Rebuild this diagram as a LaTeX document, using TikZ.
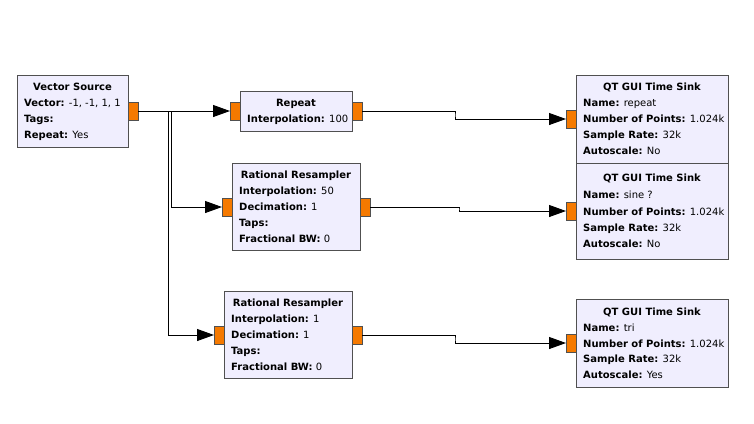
\documentclass[tikz,border=0pt]{standalone}
\usepackage{fontspec}
\setmainfont{DejaVu Sans}
\usetikzlibrary{arrows.meta}
\definecolor{blockfill}{RGB}{240,238,254}
\definecolor{portfill}{RGB}{245,121,0}
\definecolor{edge}{RGB}{80,80,80}
\tikzset{
  blk/.style={draw=edge, fill=blockfill, line width=1bp},
  port/.style={draw=edge, fill=portfill, line width=1bp, inner sep=0pt, minimum width=10bp, minimum height=18bp, outer sep=0pt},
  ttl/.style={font=\fontsize{10bp}{16bp}\selectfont\bfseries, anchor=mid, inner sep=0pt, yshift=-1.5bp},
  prm/.style={font=\fontsize{10bp}{16bp}\selectfont, anchor=mid west, inner sep=0pt, yshift=-1.5bp},
  wire/.style={line width=1bp, draw=black},
  arr/.style={wire, -{Triangle[length=17bp,width=12bp]}}
}
\begin{document}
\begin{tikzpicture}[x=1bp,y=-1bp]
\useasboundingbox[fill=white] (0,0) rectangle (754,423);

% Vector Source
\path[blk] (17,75) rectangle (128,147);
\node[ttl] (vs-t) at (72.5,86) {Vector Source};
\node[prm] (vs-1) at (24,102) {\textbf{Vector:} -1, -1, 1, 1};
\node[prm] (vs-2) at (24,118) {\textbf{Tags:}};
\node[prm] (vs-3) at (24,134) {\textbf{Repeat:} Yes};
\node[port] (vs-out) at (133,111) {};

% Repeat
\path[blk] (240,91) rectangle (352,131);
\node[ttl] (rp-t) at (296,102) {Repeat};
\node[prm] (rp-1) at (247,118) {\textbf{Interpolation:} 100};
\node[port] (rp-in) at (235,111) {};
\node[port] (rp-out) at (357,111) {};

% Rational Resampler 1
\path[blk] (232,163) rectangle (360,250);
\node[ttl] (r1-t) at (296,174) {Rational Resampler};
\node[prm] (r1-1) at (239,190) {\textbf{Interpolation:} 50};
\node[prm] (r1-2) at (239,206) {\textbf{Decimation:} 1};
\node[prm] (r1-3) at (239,222) {\textbf{Taps:}};
\node[prm] (r1-4) at (239,238) {\textbf{Fractional BW:} 0};
\node[port] (r1-in) at (227,207) {};
\node[port] (r1-out) at (365,207) {};

% Rational Resampler 2
\path[blk] (224,291) rectangle (352,378);
\node[ttl] (r2-t) at (288,302) {Rational Resampler};
\node[prm] (r2-1) at (231,318) {\textbf{Interpolation:} 1};
\node[prm] (r2-2) at (231,334) {\textbf{Decimation:} 1};
\node[prm] (r2-3) at (231,350) {\textbf{Taps:}};
\node[prm] (r2-4) at (231,366) {\textbf{Fractional BW:} 0};
\node[port] (r2-in) at (219,335) {};
\node[port] (r2-out) at (357,335) {};

% QT GUI Time Sink 1
\path[blk] (576,75) rectangle (728,163);
\node[ttl] (s1-t) at (652,86) {QT GUI Time Sink};
\node[prm] (s1-1) at (583,102) {\textbf{Name:} repeat};
\node[prm] (s1-2) at (583,118) {\textbf{Number of Points:} 1.024k};
\node[prm] (s1-3) at (583,134) {\textbf{Sample Rate:} 32k};
\node[prm] (s1-4) at (583,150) {\textbf{Autoscale:} No};
\node[port] (s1-in) at (571,119) {};

% QT GUI Time Sink 2
\path[blk] (576,163) rectangle (728,259);
\node[ttl] (s2-t) at (652,177) {QT GUI Time Sink};
\node[prm] (s2-1) at (583,194) {\textbf{Name:} sine ?};
\node[prm] (s2-2) at (583,211) {\textbf{Number of Points:} 1.024k};
\node[prm] (s2-3) at (583,227) {\textbf{Sample Rate:} 32k};
\node[prm] (s2-4) at (583,243) {\textbf{Autoscale:} No};
\node[port] (s2-in) at (571,211) {};

% QT GUI Time Sink 3
\path[blk] (576,299) rectangle (728,387);
\node[ttl] (s3-t) at (652,311) {QT GUI Time Sink};
\node[prm] (s3-1) at (583,327) {\textbf{Name:} tri};
\node[prm] (s3-2) at (583,343) {\textbf{Number of Points:} 1.024k};
\node[prm] (s3-3) at (583,358) {\textbf{Sample Rate:} 32k};
\node[prm] (s3-4) at (583,374) {\textbf{Autoscale:} Yes};
\node[port] (s3-in) at (571,343) {};

% junction / bend coordinates
\coordinate (ja) at (168,111);
\coordinate (jb) at (171,111);
\coordinate (m1) at (455,115);
\coordinate (m2) at (459,209);
\coordinate (m3) at (455,339);

% connectors
\draw[arr] (vs-out.east) -- (rp-in.west);
\draw[arr] (vs-out.east) -- (jb) |- (r1-in.west);
\draw[arr] (vs-out.east) -- (ja) |- (r2-in.west);
\draw[arr] (rp-out.east) -| (m1) |- (s1-in.west);
\draw[arr] (r1-out.east) -| (m2) |- (s2-in.west);
\draw[arr] (r2-out.east) -| (m3) |- (s3-in.west);
\end{tikzpicture}
\end{document}
